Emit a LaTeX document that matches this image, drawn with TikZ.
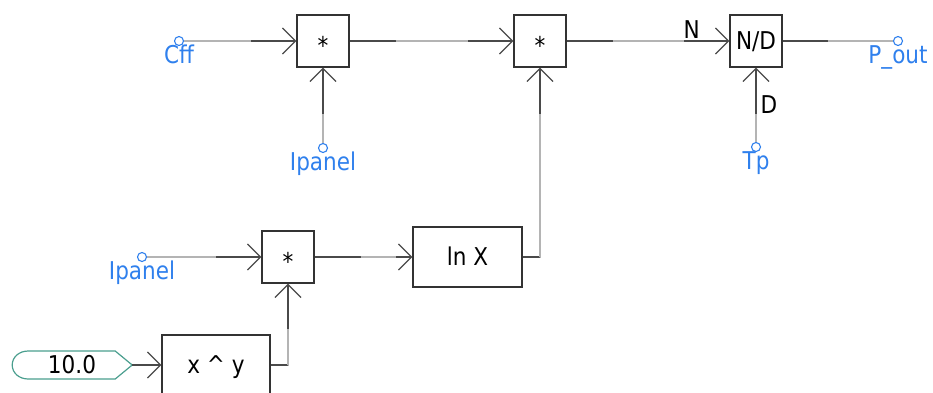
\documentclass[tikz,border=0pt]{standalone}
\usepackage{fontspec}
\setmainfont{DejaVu Sans}[FakeStretch=0.88]
\usetikzlibrary{arrows.meta}
\definecolor{psblau}{HTML}{2F80ED}
\definecolor{psgruen}{HTML}{4A9E8E}
\definecolor{psdraht}{HTML}{4A4A4A}
\definecolor{pslicht}{HTML}{B4B4B4}
\definecolor{psrand}{HTML}{333333}
\newcommand{\schrift}{\fontsize{24.5}{28}\selectfont}
\tikzset{
  block/.style={draw=psrand, line width=1.4pt, fill=white, inner sep=0pt, minimum width=52pt, minimum height=52pt, font=\schrift, text height=17.5pt, text depth=0pt},
  anschluss/.style={circle, draw=psblau, line width=1.1pt, minimum size=9pt, inner sep=0pt, label distance=1pt},
  pinlabel/.style={text=psblau, font=\schrift, inner sep=0pt, text height=17.5pt, text depth=0pt},
  konst/.style={font=\schrift, inner sep=0pt, minimum width=120pt, minimum height=28pt, text height=17.5pt, text depth=0pt},
  wlabel/.style={font=\schrift, inner sep=0pt, text height=17.5pt, text depth=0pt},
  draht/.style={draw=psdraht, line width=1.3pt},
  pfeil/.style={draht, -{Straight Barb[length=13pt, width=26pt, line width=1.2pt]}},
  mitte/.style n args={2}{postaction={draw=pslicht, line width=1.3pt, -, shorten <=#1, shorten >=#2}},
}
\begin{document}
\begin{tikzpicture}[x=1pt, y=-1pt]
  \useasboundingbox (0,0) rectangle (933,392);
  \node[block] (m1) at (323,41) {\raisebox{-0.2em}{*}};
  \node[block] (m2) at (540,41) {\raisebox{-0.2em}{*}};
  \node[block] (dv) at (756,41) {N/D};
  \node[block] (m3) at (288,257) {\raisebox{-0.2em}{*}};
  \node[block, minimum width=109pt, minimum height=60pt] (lnx) at (467.5,257) {ln X};
  \node[block, minimum width=108pt, minimum height=60pt] (pw) at (216,365) {x \^{} y};
  \node[anschluss, label={[pinlabel]below:Cff}] (cff) at (179,41) {};
  \node[anschluss, label={[pinlabel]below:Ipanel}] (ip1) at (323,148) {};
  \node[anschluss, label={[pinlabel]below:Tp}] (tp) at (756,147) {};
  \node[anschluss, label={[pinlabel]below:P\_out}] (pout) at (898,41) {};
  \node[anschluss, label={[pinlabel]below:Ipanel}] (ip2) at (142,257) {};
  \node[konst] (k10) at (72,365) {10.0};
  \draw[psgruen, line width=1.2pt] (k10.east) -- ++(-17,-14) -- ++(-87,0)
    .. controls +(-9,0) and +(0,-8) .. ++(-16,14)
    .. controls +(0,8) and +(-9,0) .. ++(16,14) -- ++(87,0) -- cycle;
  \draw[pfeil, mitte={0pt}{45pt}] (cff) -- (m1);
  \draw[pfeil, mitte={0pt}{46pt}] (ip1) -- (m1);
  \draw[pfeil, mitte={46pt}{45pt}] (m1) -- (m2);
  \draw[pfeil, mitte={46pt}{45pt}] (m2) -- (dv) node[wlabel, pos=1, anchor=south east, xshift=-29pt, yshift=2pt] {N};
  \draw[pfeil, mitte={0pt}{46pt}] (tp) -- (dv) node[wlabel, pos=0.37, anchor=south west, xshift=4pt] {D};
  \draw[draht, mitte={45pt}{0pt}] (dv) -- (pout);
  \draw[pfeil, mitte={0pt}{45pt}] (ip2) -- (m3);
  \draw[pfeil, mitte={17pt}{45pt}] (pw.east) -| (m3.south);
  \draw[pfeil, mitte={46pt}{16pt}] (m3) -- (lnx);
  \draw[pfeil, mitte={17pt}{46pt}] (lnx.east) -| (m2.south);
  \draw[pfeil] (k10.east) -- (pw.west);
\end{tikzpicture}
\end{document}
